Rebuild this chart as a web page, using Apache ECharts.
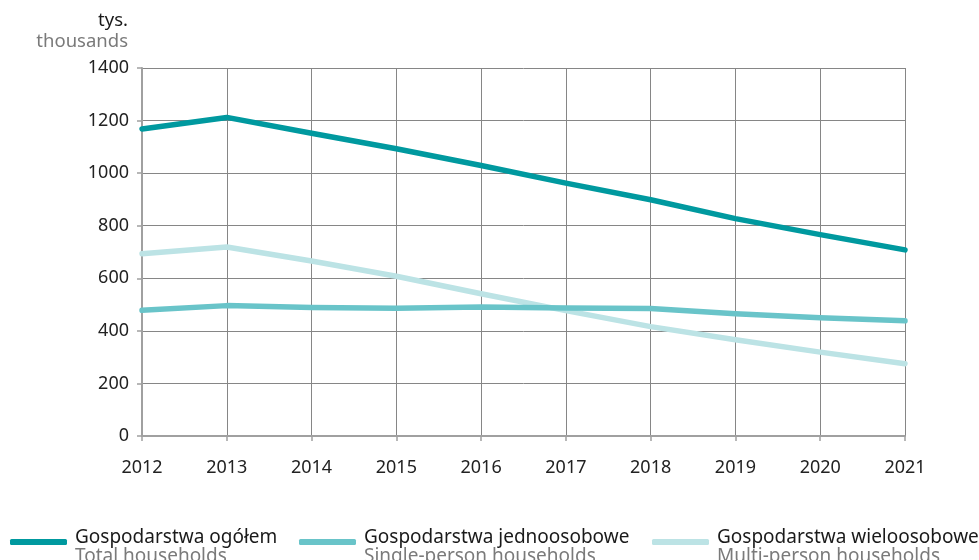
<!DOCTYPE html>
<html>
<head>
<meta charset="utf-8">
<script src="https://cdn.jsdelivr.net/npm/echarts@6/dist/echarts.min.js"></script>
<style>
  html, body { margin: 0; padding: 0; background: #fff; }
  #chart { width: 979px; height: 560px; }
</style>
</head>
<body>
<div id="chart"></div>
<script>
// Households, thousands
const years = ['2012', '2013', '2014', '2015', '2016', '2017', '2018', '2019', '2020', '2021'];
const totalHouseholds = [1168, 1212, 1152, 1093, 1029, 962, 899, 827, 766, 708];
const singlePerson = [478, 496, 489, 486, 491, 487, 485, 465, 450, 438];
const multiPerson = [693, 719, 666, 608, 541, 477, 416, 366, 319, 275];

const seriesNamesPl = ['Gospodarstwa ogółem', 'Gospodarstwa jednoosobowe', 'Gospodarstwa wieloosobowe'];
const seriesNamesEn = ['Total households', 'Single-person households', 'Multi-person households'];
const seriesColors = ['#00999f', '#69c4c9', '#bce3e5'];
const seriesValues = [totalHouseholds, singlePerson, multiPerson];

const FONT = '"Noto Sans", sans-serif';
const legendLeft = [10, 299, 652];

const chart = echarts.init(document.getElementById('chart'), null, { renderer: 'canvas' });

const legends = seriesNamesPl.map((name, i) => ({
  data: [name],
  left: legendLeft[i],
  top: 528,
  padding: 0,
  orient: 'horizontal',
  icon: 'roundRect',
  itemWidth: 57,
  itemHeight: 6,
  itemGap: 0,
  selectedMode: false,
  formatter: n => '{a|' + n + '}\n{b|' + seriesNamesEn[i] + '}',
  textStyle: {
    padding: [0, 0, 0, 3],
    rich: {
      a: { fontFamily: FONT, fontSize: 19, color: '#1a1a1a', lineHeight: 29 },
      b: { fontFamily: FONT, fontSize: 19, color: '#7a7a7a', lineHeight: 9 }
    }
  }
}));

chart.setOption({
  animation: false,
  backgroundColor: '#ffffff',
  grid: { left: 142, right: 74, top: 68, bottom: 124 },
  legend: legends,
  xAxis: {
    type: 'category',
    data: years,
    boundaryGap: false,
    axisLine: { lineStyle: { color: '#a0a0a0', width: 2 } },
    axisTick: { show: true, alignWithLabel: true, length: 5, lineStyle: { color: '#a0a0a0', width: 1.5 } },
    axisLabel: { fontFamily: FONT, fontSize: 18, color: '#222', margin: 23 },
    splitLine: { show: true, lineStyle: { color: '#868686', width: 1 } }
  },
  yAxis: {
    type: 'value',
    min: 0,
    max: 1400,
    interval: 200,
    name: '{a|tys.}\n{b|thousands}',
    nameLocation: 'end',
    nameGap: 16,
    nameTextStyle: {
      align: 'right',
      padding: [0, 14, 0, 0],
      rich: {
        a: { fontFamily: FONT, fontSize: 18.5, color: '#1a1a1a', lineHeight: 21, align: 'right' },
        b: { fontFamily: FONT, fontSize: 18.5, color: '#7a7a7a', lineHeight: 21, align: 'right' }
      }
    },
    axisLine: { show: true, lineStyle: { color: '#a0a0a0', width: 2 } },
    axisTick: { show: true, length: 5, lineStyle: { color: '#a0a0a0', width: 1.5 } },
    axisLabel: { fontFamily: FONT, fontSize: 18, color: '#222', margin: 13, formatter: v => String(v) },
    splitLine: { show: true, lineStyle: { color: '#868686', width: 1 } }
  },
  series: seriesNamesPl.map((name, i) => ({
    name: name,
    type: 'line',
    data: seriesValues[i],
    color: seriesColors[i],
    showSymbol: false,
    symbol: 'none',
    z: 10 - i,
    lineStyle: { width: 5.5, color: seriesColors[i], cap: 'round', join: 'round' }
  }))
});
</script>
</body>
</html>
